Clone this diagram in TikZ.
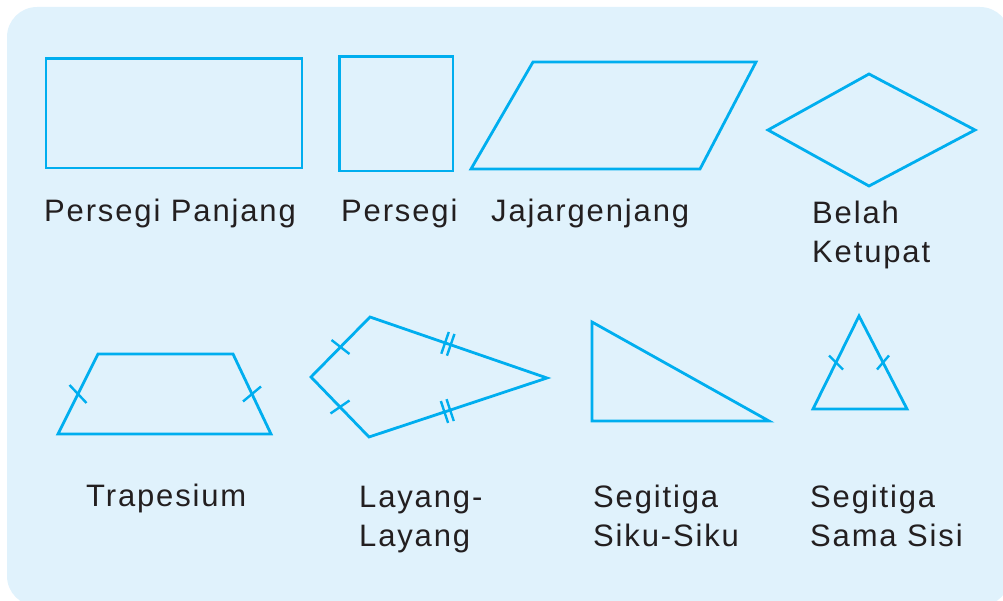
\documentclass[tikz,border=0pt]{standalone}
\usepackage{fontspec}
\setmainfont{Liberation Sans}[LetterSpace=6]
\usetikzlibrary{decorations.markings,calc}
\definecolor{bgblue}{RGB}{224,242,252}
\definecolor{shapeblue}{RGB}{0,174,239}
\definecolor{txtcol}{RGB}{35,31,32}
\begin{document}
\begin{tikzpicture}[x=1pt,y=-1pt,
  shape line/.style={draw=shapeblue, line width=2.8pt, line join=miter},
  tick line/.style={draw=shapeblue, line width=2.4pt},
  labeltext/.style={anchor=base west, inner sep=0pt, text=txtcol, font=\fontsize{31}{39}\selectfont},
  twotick/.style={postaction={decorate, decoration={markings, mark=at position #1 with {\draw[tick line] (-3,-11.5) -- (-3,11.5) (3,-11.5) -- (3,11.5);}}}}
]
\useasboundingbox (0,0) rectangle (1003,601);
\fill[bgblue, rounded corners=30pt] (7,7) rectangle (1010,606);

% Persegi Panjang
\draw[shape line] (46,58.5) rectangle (302,168);
% Persegi
\draw[shape line] (339.5,56.5) rectangle (453,171);
% Jajargenjang
\coordinate (ja) at (471,169);
\coordinate (jb) at (533,62);
\coordinate (jc) at (756,62);
\coordinate (jd) at (700,169);
\draw[shape line] (ja) -- (jb) -- (jc) -- (jd) -- cycle;
% Belah Ketupat
\coordinate (ba) at (768,130);
\coordinate (bb) at (869,74);
\coordinate (bc) at (975,130);
\coordinate (bd) at (869,186);
\draw[shape line] (ba) -- (bb) -- (bc) -- (bd) -- cycle;

% Trapesium
\coordinate (ta) at (58,434);
\coordinate (tb) at (98,354);
\coordinate (tc) at (233,354);
\coordinate (td) at (271,434);
\draw[shape line] (ta) -- (tb) -- (tc) -- (td) -- cycle;
\draw[tick line] ($(ta)!0.5!(tb)$) ++(-8.5,-9) -- ++(17,18);
\draw[tick line] ($(td)!0.5!(tc)$) ++(-9,7.5) -- ++(18,-15);

% Layang-Layang
\coordinate (la) at (311,377);
\coordinate (lb) at (370,317);
\coordinate (lc) at (547,378);
\coordinate (ld) at (369,437);
\draw[shape line] (la) -- (lb) -- (lc) -- (ld) -- cycle;
\draw[tick line] ($(la)!0.5!(lb)$) ++(-9,-7) -- ++(18,14);
\draw[tick line] ($(la)!0.5!(ld)$) ++(-9.5,6.5) -- ++(19,-13);
\path[twotick=0.44] (lb) -- (lc);
\path[twotick=0.44] (ld) -- (lc);

% Segitiga Siku-Siku
\coordinate (sa) at (592,322);
\coordinate (sb) at (592,421);
\coordinate (sc) at (769,421);
\draw[shape line] (sa) -- (sb) -- (sc) -- cycle;

% Segitiga Sama Sisi
\coordinate (ea) at (859,316);
\coordinate (eb) at (813,409);
\coordinate (ec) at (907,409);
\draw[shape line] (ea) -- (eb) -- (ec) -- cycle;
\draw[tick line] ($(eb)!0.5!(ea)$) ++(-7,-7) -- ++(14,14);
\draw[tick line] ($(ec)!0.5!(ea)$) ++(-6,7) -- ++(12,-14);

% Labels
\node[labeltext] (l1) at (44,222) {Persegi Panjang};
\node[labeltext] (l2) at (341,222) {Persegi};
\node[labeltext] (l3) at (491,222) {Jajargenjang};
\node[labeltext] (l4a) at (812,224) {Belah};
\node[labeltext] (l4b) at (812,263) {Ketupat};
\node[labeltext] (l5) at (86,506) {Trapesium};
\node[labeltext] (l6a) at (359,507) {Layang-};
\node[labeltext] (l6b) at (359,546) {Layang};
\node[labeltext] (l7a) at (593,507) {Segitiga};
\node[labeltext] (l7b) at (593,546) {Siku-Siku};
\node[labeltext] (l8a) at (810,507) {Segitiga};
\node[labeltext] (l8b) at (810,546) {Sama Sisi};
\end{tikzpicture}
\end{document}
